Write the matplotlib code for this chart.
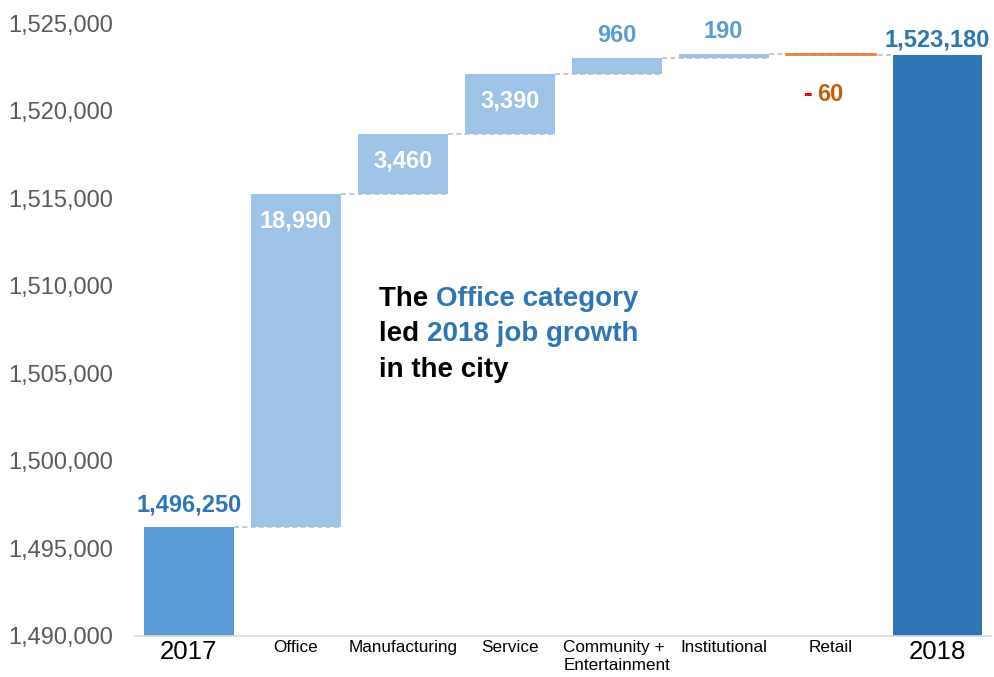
import matplotlib
matplotlib.use("Agg")
import matplotlib.pyplot as plt
from matplotlib.ticker import FuncFormatter

plt.rcParams["font.family"] = ["Liberation Sans", "DejaVu Sans"]

categories = ["2017", "Office", "Manufacturing", "Service",
              "Community +\nEntertainment", "Institutional", "Retail", "2018"]
start_total = 1496250
changes = [18990, 3460, 3390, 960, 190, -60]
end_total = 1523180

C_START = "#5B9BD5"
C_END = "#2E75B6"
C_UP = "#9DC3E6"
C_DOWN = "#ED7D31"
WIDTH = 0.84

fig = plt.figure(figsize=(9.95, 6.77), dpi=100)
ax = fig.add_axes([0.136, 0.0606, 0.860, 0.9047])

x = list(range(len(categories)))

# totals
ax.bar(x[0], start_total - 1490000, bottom=1490000, width=WIDTH, color=C_START, zorder=2)
ax.bar(x[-1], end_total - 1490000, bottom=1490000, width=WIDTH, color=C_END, zorder=2)

# floating change bars + connectors
level = start_total
for i, d in enumerate(changes, start=1):
    color = C_UP if d >= 0 else C_DOWN
    ax.bar(x[i], d, bottom=level, width=WIDTH, color=color,
           edgecolor=color if d < 0 else "none", linewidth=1.2, zorder=2)
    ax.plot([x[i - 1] + WIDTH / 2, x[i] + WIDTH / 2], [level, level],
            ls=(0, (3, 2)), color="#c0c0c0", lw=1.2, zorder=1)
    level += d
ax.plot([x[-2] - WIDTH / 2, x[-1] - WIDTH / 2], [end_total, end_total],
        ls=(0, (3, 2)), color="#c0c0c0", lw=1.2, zorder=1)

# value labels
lab = dict(fontsize=17, fontweight="bold", ha="center", clip_on=False)
ax.annotate(f"{start_total:,}", (x[0], start_total), xytext=(0, 7),
            textcoords="offset points", va="bottom", color=C_END, **lab)
ax.annotate(f"{end_total:,}", (x[-1], end_total), xytext=(0, 3),
            textcoords="offset points", va="bottom", color=C_END, **lab)
level = start_total
for i, d in enumerate(changes, start=1):
    top = level + max(d, 0)
    if d >= 1000:
        ax.annotate(f"{d:,}", (x[i], top), xytext=(0, -11),
                    textcoords="offset points", va="top", color="white", **lab)
    elif d > 0:
        ax.annotate(f"{d:,}", (x[i], top), xytext=(0, 8),
                    textcoords="offset points", va="bottom", color=C_START, **lab)
    else:
        ax.annotate(f"{abs(d):,}", (x[i], level + d), xytext=(-9.5, -20),
                    textcoords="offset points", va="top", ha="left",
                    color="#C55A11", fontsize=17, fontweight="bold", clip_on=False)
        ax.annotate("-", (x[i], level + d), xytext=(-16, -19),
                    textcoords="offset points", va="top", ha="center",
                    color="#FF0000", fontsize=19, fontweight="bold", clip_on=False)
    level += d

# callout text, coloured word by word
parts = [
    [("The ", "black"), ("Office category", C_END)],
    [("led ", "black"), ("2018 job growth", C_END)],
    [("in the city", "black")],
]
line_y = [0.538, 0.481, 0.423]
for row, yy in zip(parts, line_y):
    prev = None
    for txt, col in row:
        if prev is None:
            prev = ax.text(0.285, yy, txt, transform=ax.transAxes, fontsize=20,
                           fontweight="bold", color=col, va="baseline")
        else:
            prev = ax.annotate(txt, xy=(1, 0), xycoords=prev, fontsize=20,
                               fontweight="bold", color=col, va="bottom")

ax.set_xlim(-0.5, 7.5)
ax.set_ylim(1490000, 1525000)
ax.set_yticks(range(1490000, 1525001, 5000))
ax.yaxis.set_major_formatter(FuncFormatter(lambda v, _: f"{int(v):,}"))
ax.tick_params(axis="y", length=0, labelsize=17, labelcolor="#595959", pad=16)
ax.set_xticks(x)
ax.set_xticklabels(categories)
ax.tick_params(axis="x", length=0, pad=3, labelcolor="black")
for i, t in enumerate(ax.get_xticklabels()):
    t.set_fontsize(18.5 if i in (0, len(x) - 1) else 12.3)
    if "\n" in t.get_text():
        t.set_ha("center")
        t.set_multialignment("left")

for s in ("top", "right", "left"):
    ax.spines[s].set_visible(False)
ax.spines["bottom"].set_color("#d9d9d9")
ax.spines["bottom"].set_linewidth(1.2)

fig.savefig("out.png", dpi=100)
